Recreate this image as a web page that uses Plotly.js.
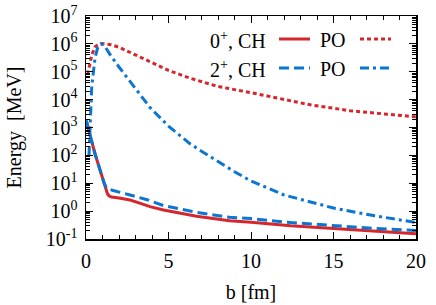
<!DOCTYPE html>
<html>
<head>
<meta charset="utf-8">
<script src="https://cdn.plot.ly/plotly-3.0.1.min.js"></script>
<style>html,body{margin:0;padding:0;background:#fff;}#chart{width:436px;height:305px;}</style>
</head>
<body>
<div id="chart"></div>
<script>
// 0+, CH (red solid)
const ch0_b = [0.02, 0.12, 0.3, 0.55, 0.85, 1.15, 1.3, 1.4, 1.55, 2.0, 2.67, 3.3, 3.88, 4.7, 5.7, 6.7, 8.7, 10, 12.4, 15, 17.5, 20];
const ch0_E = [1780, 1000, 400, 112, 28, 8.3, 4.2, 3.5, 3.2, 2.95, 2.5, 1.9, 1.45, 1.1, 0.83, 0.65, 0.45, 0.40, 0.30, 0.235, 0.19, 0.155];
// 0+, PO (red dotted)
const po0_b = [0.1, 0.2, 0.35, 0.55, 0.75, 1.0, 1.5, 2, 3, 3.88, 5, 6.3, 8, 10, 12, 13.6, 16, 18, 20];
const po0_E = [8e4, 1.74e5, 4e5, 7.9e5, 9.5e5, 1.02e6, 9.3e5, 7.6e5, 4e5, 2.3e5, 1.12e5, 5.9e4, 2.95e4, 1.78e4, 1e4, 6.5e3, 4e3, 3.1e3, 2.4e3];
// 2+, CH (blue dashed)
const ch2_b = [0.02, 0.12, 0.3, 0.55, 0.85, 1.1, 1.25, 1.65, 2.67, 3.7, 4.7, 5.7, 6.7, 8.7, 10, 12.4, 15, 17.5, 20];
const ch2_E = [1780, 1000, 400, 112, 28, 10, 6.6, 5.5, 3.8, 2.57, 1.58, 1.17, 0.91, 0.60, 0.54, 0.39, 0.30, 0.24, 0.20];
// 2+, PO (blue dash-dot)
const po2_b = [0.18, 0.22, 0.27, 0.35, 0.45, 0.55, 0.7, 0.9, 1.1, 1.5, 2, 3, 3.88, 5, 6.3, 7, 8, 9, 10, 11, 12, 15, 17.5, 20];
const po2_E = [100, 400, 2500, 3.2e4, 1e5, 3.2e5, 7e5, 1e6, 8.9e5, 3.8e5, 1.48e5, 2.5e4, 5.2e3, 1.12e3, 263, 141, 60, 26, 12, 6.6, 3.8, 1.29, 0.68, 0.39];

const yTickVals = [0.1, 1, 10, 100, 1e3, 1e4, 1e5, 1e6, 1e7];
const yTickText = ['10<sup>-1</sup>','10<sup>0</sup>','10<sup>1</sup>','10<sup>2</sup>','10<sup>3</sup>','10<sup>4</sup>','10<sup>5</sup>','10<sup>6</sup>','10<sup>7</sup>'];
const xTickVals = [0, 5, 10, 15, 20];
const legendLabels = ['0<sup>+</sup>, CH', 'PO', '2<sup>+</sup>, CH', 'PO'];

const RED = '#d5262c', BLUE = '#0a76d2';
const W = 3;

const traces = [
  {x: ch0_b, y: ch0_E, mode: 'lines', line: {color: RED, width: W, dash: 'solid'}},
  {x: po0_b, y: po0_E, mode: 'lines', line: {color: RED, width: W, dash: '4px,3px'}},
  {x: ch2_b, y: ch2_E, mode: 'lines', line: {color: BLUE, width: W, dash: '10px,5px'}},
  {x: po2_b, y: po2_E, mode: 'lines', line: {color: BLUE, width: W, dash: '9px,4px,3px,4px'}}
];

const minorY = [];
for (let e = -1; e < 7; e++) for (let m = 2; m <= 9; m++) minorY.push(m * Math.pow(10, e));

const FAM = 'Liberation Serif';
const font = {family: FAM, size: 20, color: '#000'};
const tfont = {family: FAM, size: 20, color: '#000'};

// legend samples (paper coords)
function px2x(p){ return (p - 86) / 330; }
function py2y(p){ return (239 - p) / 223; }
const shapes = [
  {type:'line', xref:'paper', yref:'paper', x0:px2x(279), x1:px2x(310), y0:py2y(39), y1:py2y(39), line:{color:RED, width:W}},
  {type:'line', xref:'paper', yref:'paper', x0:px2x(360), x1:px2x(391), y0:py2y(39), y1:py2y(39), line:{color:RED, width:W, dash:'4px,3px'}},
  {type:'line', xref:'paper', yref:'paper', x0:px2x(279), x1:px2x(310), y0:py2y(68), y1:py2y(68), line:{color:BLUE, width:W, dash:'10px,5px'}},
  {type:'line', xref:'paper', yref:'paper', x0:px2x(360), x1:px2x(391), y0:py2y(68), y1:py2y(68), line:{color:BLUE, width:W, dash:'9px,4px,3px,4px'}}
];
const annotations = [
  {text: legendLabels[0], xref:'paper', yref:'paper', x:px2x(268), y:py2y(40), xanchor:'right', yanchor:'middle', showarrow:false, font:font},
  {text: legendLabels[1], xref:'paper', yref:'paper', x:px2x(348), y:py2y(40), xanchor:'right', yanchor:'middle', showarrow:false, font:font},
  {text: legendLabels[2], xref:'paper', yref:'paper', x:px2x(268), y:py2y(69), xanchor:'right', yanchor:'middle', showarrow:false, font:font},
  {text: legendLabels[3], xref:'paper', yref:'paper', x:px2x(348), y:py2y(69), xanchor:'right', yanchor:'middle', showarrow:false, font:font}
];

const layout = {
  width: 436, height: 305,
  margin: {l: 86, r: 20, t: 16, b: 66},
  paper_bgcolor: '#fff', plot_bgcolor: '#fff',
  showlegend: false,
  font: font,
  xaxis: {
    range: [0, 20], showgrid: false, zeroline: false,
    showline: true, linecolor: '#000', linewidth: 1.5, mirror: 'ticks',
    ticks: 'inside', ticklen: 7, tickwidth: 1, tickcolor: '#000',
    tickmode: 'array', tickvals: xTickVals, ticktext: xTickVals.map(String),
    ticklabelstandoff: 3,
    minor: {ticks: 'inside', ticklen: 4, dtick: 1, tickcolor: '#000', showgrid: false},
    tickfont: tfont,
    title: {text: 'b [fm]', font: font, standoff: 14}
  },
  yaxis: {
    type: 'log', range: [-1, 7], showgrid: false, zeroline: false,
    showline: true, linecolor: '#000', linewidth: 1.5, mirror: 'ticks',
    ticks: 'inside', ticklen: 7, tickwidth: 1, tickcolor: '#000',
    tickmode: 'array', tickvals: yTickVals, ticktext: yTickText,
    ticklabelstandoff: 3,
    minor: {ticks: 'inside', ticklen: 4, tickmode: 'array', tickvals: minorY, tickcolor: '#000', showgrid: false},
    tickfont: tfont,
    title: {text: 'Energy\u00a0\u00a0[MeV]', font: font, standoff: 19}
  },
  shapes: shapes,
  annotations: annotations
};

Plotly.newPlot('chart', traces, layout, {displayModeBar: false, staticPlot: true});
</script>
</body>
</html>
